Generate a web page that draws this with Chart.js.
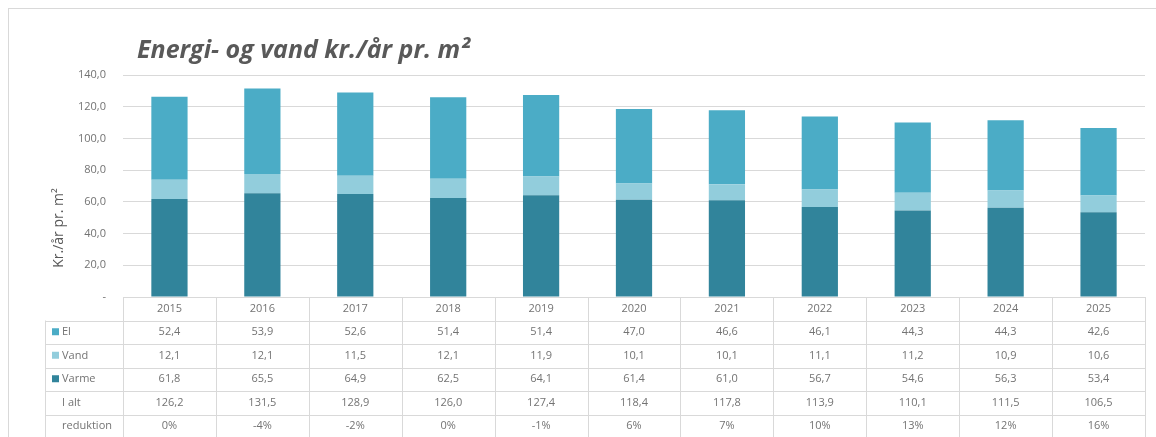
<!DOCTYPE html>
<html lang="da">
<head>
<meta charset="utf-8">
<title>Energi- og vand kr./år pr. m²</title>
<script src="https://cdn.jsdelivr.net/npm/chart.js@4.4.1/dist/chart.umd.min.js"></script>
<style>
    html, body { margin: 0; padding: 0; background: #fff; }
    #wrap { width: 1156px; height: 437px; }
</style>
</head>
<body>
<div id="wrap"><canvas id="energyChart" width="1156" height="437"></canvas></div>
<script>
const years = ['2015', '2016', '2017', '2018', '2019', '2020', '2021', '2022', '2023', '2024', '2025'];
const el = [52.4, 53.9, 52.6, 51.4, 51.4, 47.0, 46.6, 46.1, 44.3, 44.3, 42.6];
const vand = [12.1, 12.1, 11.5, 12.1, 11.9, 10.1, 10.1, 11.1, 11.2, 10.9, 10.6];
const varme = [61.8, 65.5, 64.9, 62.5, 64.1, 61.4, 61.0, 56.7, 54.6, 56.3, 53.4];
const iAlt = [126.2, 131.5, 128.9, 126.0, 127.4, 118.4, 117.8, 113.9, 110.1, 111.5, 106.5];
const reduktion = [0, -4, -2, 0, -1, 6, 7, 10, 13, 12, 16];
const yTicks = [0, 20, 40, 60, 80, 100, 120, 140];

const colors = {
    el: '#4BACC6',
    vand: '#92CDDC',
    varme: '#31849B'
};
const titleColor = '#595959';
const textColor = '#737373';
const lineColor = '#D9D9D9';
const fontFamily = '"Open Sans", "Noto Sans", sans-serif';

function fmt(v) {
    return v.toFixed(1).replace('.', ',');
}

/**
 * Draws the frame, title, axis title and the data table under the bars
 */
const tablePlugin = {
    id: 'dataTable',
    beforeDraw(chart) {
        const ctx = chart.ctx;
        ctx.save();
        ctx.fillStyle = '#fff';
        ctx.fillRect(0, 0, chart.width, chart.height);
        ctx.strokeStyle = lineColor;
        ctx.lineWidth = 1;
        ctx.strokeRect(8.5, 8.5, chart.width + 10, chart.height + 10);
        ctx.restore();
    },
    afterDraw(chart) {
        const ctx = chart.ctx;
        const x = chart.scales.x;
        const area = chart.chartArea;
        const n = years.length;
        const colW = (area.right - area.left) / n;
        const rowH = 23.5;
        const top = area.bottom;
        const labelLeft = 45;

        ctx.save();

        // Title
        ctx.fillStyle = titleColor;
        ctx.font = 'italic bold 25px ' + fontFamily;
        ctx.textAlign = 'left';
        ctx.textBaseline = 'alphabetic';
        ctx.fillText('Energi- og vand kr./år pr. m²', 137, 58);

        // Y axis title
        ctx.save();
        ctx.translate(59, 228);
        ctx.rotate(-Math.PI / 2);
        ctx.font = '14px ' + fontFamily;
        ctx.textAlign = 'center';
        ctx.textBaseline = 'middle';
        ctx.fillText('Kr./år pr. m²', 0, 0);
        ctx.restore();

        // Table lines
        ctx.strokeStyle = lineColor;
        ctx.lineWidth = 1;
        ctx.beginPath();
        ctx.moveTo(area.left, top + 0.5);
        ctx.lineTo(area.right, top + 0.5);
        for (let r = 1; r <= 6; r++) {
            const y = Math.round(top + r * rowH) + 0.5;
            ctx.moveTo(labelLeft, y);
            ctx.lineTo(area.right, y);
        }
        for (let i = 0; i <= n; i++) {
            const lx = Math.round(area.left + i * colW) + 0.5;
            ctx.moveTo(lx, top);
            ctx.lineTo(lx, chart.height);
        }
        ctx.moveTo(labelLeft + 0.5, top + rowH);
        ctx.lineTo(labelLeft + 0.5, chart.height);
        ctx.stroke();

        // Row labels with legend markers
        const rows = [
            { label: 'El', color: colors.el, values: el.map(fmt) },
            { label: 'Vand', color: colors.vand, values: vand.map(fmt) },
            { label: 'Varme', color: colors.varme, values: varme.map(fmt) },
            { label: 'I alt', color: null, values: iAlt.map(fmt) },
            { label: 'reduktion', color: null, values: reduktion.map(v => v + '%') }
        ];

        ctx.font = '11px ' + fontFamily;
        ctx.textBaseline = 'middle';
        ctx.fillStyle = textColor;
        ctx.textAlign = 'center';
        years.forEach((yr, i) => {
            ctx.fillText(yr, x.getPixelForValue(i), top + rowH / 2);
        });

        rows.forEach((row, r) => {
            const cy = top + (r + 1.5) * rowH;
            if (row.color) {
                ctx.fillStyle = row.color;
                ctx.fillRect(labelLeft + 7, cy - 4, 7, 7);
            }
            ctx.fillStyle = textColor;
            ctx.textAlign = 'left';
            ctx.fillText(row.label, labelLeft + 17, cy);
            ctx.textAlign = 'center';
            row.values.forEach((v, i) => {
                ctx.fillText(v, x.getPixelForValue(i), cy);
            });
        });

        ctx.restore();
    }
};

new Chart(document.getElementById('energyChart'), {
    type: 'bar',
    data: {
        labels: years,
        datasets: [
            { label: 'Varme', data: varme, backgroundColor: colors.varme },
            { label: 'Vand', data: vand, backgroundColor: colors.vand },
            { label: 'El', data: el, backgroundColor: colors.el }
        ]
    },
    options: {
        responsive: false,
        animation: false,
        devicePixelRatio: 1,
        categoryPercentage: 1,
        barPercentage: 0.39,
        layout: {
            padding: { left: 0, top: 75, right: 11, bottom: 140 }
        },
        scales: {
            x: {
                stacked: true,
                display: false
            },
            y: {
                stacked: true,
                min: 0,
                max: 140,
                afterBuildTicks: function(scale) {
                    scale.ticks = yTicks.map(v => ({ value: v }));
                },
                afterFit: function(scale) {
                    scale.width = 123;
                },
                border: { display: false },
                grid: {
                    color: lineColor,
                    drawTicks: false
                },
                ticks: {
                    padding: 17,
                    color: textColor,
                    font: { family: fontFamily, size: 11 },
                    callback: function(value) {
                        return value === 0 ? '-' : fmt(value);
                    }
                }
            }
        },
        plugins: {
            legend: { display: false },
            title: { display: false },
            tooltip: { enabled: false }
        }
    },
    plugins: [tablePlugin]
});
</script>
</body>
</html>
